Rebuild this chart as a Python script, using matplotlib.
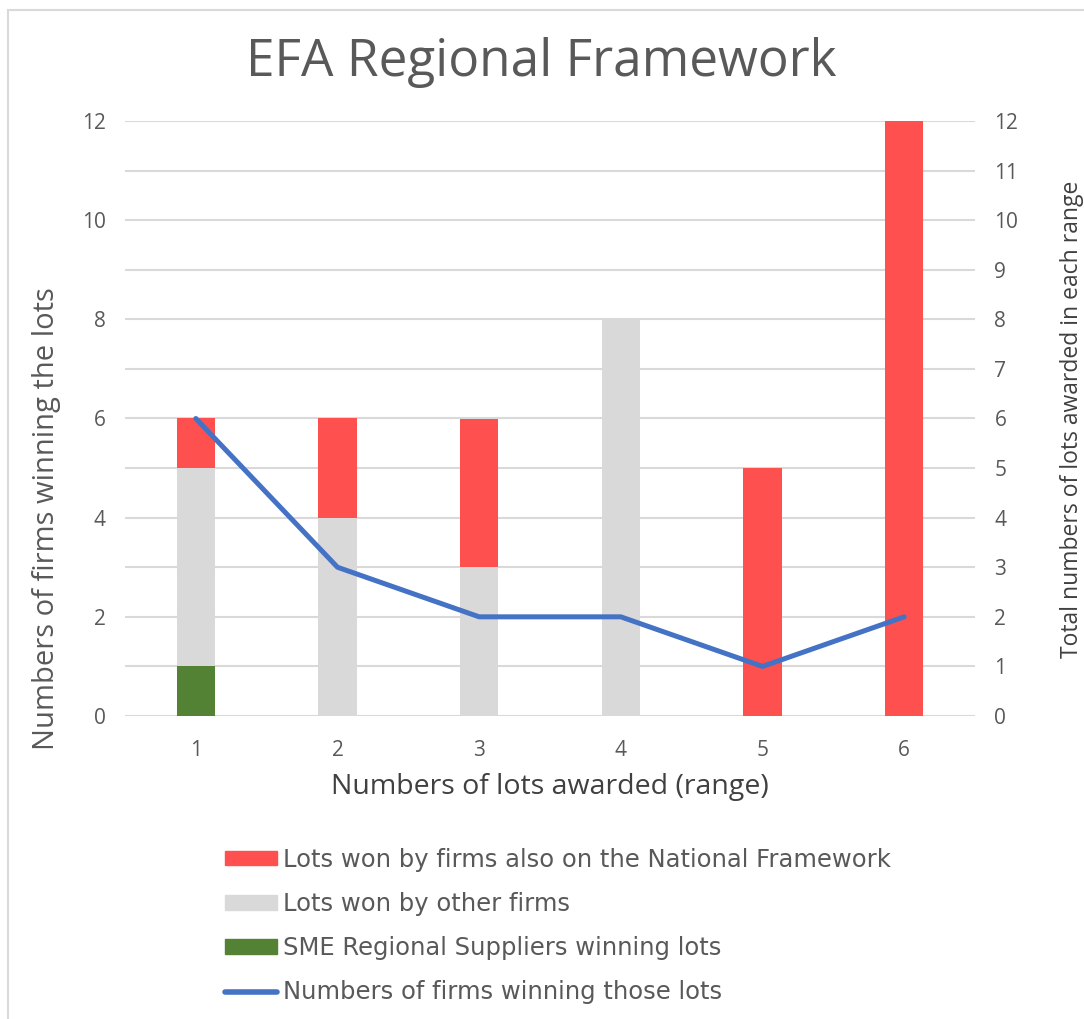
import numpy as np
import matplotlib
matplotlib.use("Agg")
import matplotlib.pyplot as plt
from matplotlib.patches import Patch, Rectangle
from matplotlib.lines import Line2D

plt.rcParams['font.family'] = ['Open Sans', 'DejaVu Sans']

# data
ranges = ["1", "2", "3", "4", "5", "6"]
sme_lots = [1, 0, 0, 0, 0, 0]
other_lots = [4, 4, 3, 8, 0, 0]
national_lots = [1, 2, 3, 0, 5, 12]
firms_winning = [6, 3, 2, 2, 1, 2]

c_red = "#FF5050"
c_gray = "#D9D9D9"
c_green = "#548235"
c_blue = "#4472C4"
c_text = "#595959"

W, H = 1084, 1019
fig = plt.figure(figsize=(W / 100, H / 100), dpi=100)

# outer chart border
fig.patches.append(Rectangle((8 / W, -0.01), 1.1, 1 - 10 / H + 0.01, transform=fig.transFigure,
                             fill=False, edgecolor="#D9D9D9", linewidth=1.5))

ax = fig.add_axes([125 / W, 1 - 716 / H, 850 / W, 595 / H])
ax2 = ax.twinx()

x = np.arange(1, len(ranges) + 1)
bw = 0.27
sme = np.array(sme_lots)
oth = np.array(other_lots)
nat = np.array(national_lots)

ax.bar(x, sme, bw, color=c_green, zorder=3)
ax.bar(x, oth, bw, bottom=sme, color=c_gray, zorder=3)
ax.bar(x, nat, bw, bottom=sme + oth, color=c_red, zorder=3)

ax2.plot(x, firms_winning, color=c_blue, linewidth=3.6, solid_capstyle="round", zorder=4)

for a in (ax, ax2):
    a.set_xlim(0.5, 6.5)
    a.set_ylim(0, 12)
    for s in a.spines.values():
        s.set_visible(False)
    a.tick_params(length=0, colors=c_text, labelsize=15)

ax.set_yticks(range(0, 13, 2))
ax2.set_yticks(range(0, 13, 1))
ax.set_yticks(range(0, 13), minor=True)
ax.tick_params(which="minor", length=0)
ax.grid(axis="y", which="both", color="#D9D9D9", linewidth=1.5, zorder=0)
ax.set_axisbelow(True)
ax.tick_params(axis="y", pad=14)
ax2.tick_params(axis="y", pad=14)
ax.set_xticks(x)
ax.set_xticklabels(ranges)
ax.tick_params(axis="x", pad=17)

# axis titles placed like the original (not centred on the axes)
fig.text(47 / W, 1 - 519 / H, "Numbers of firms winning the lots", rotation=90,
         ha="center", va="center", fontsize=21, color=c_text)
fig.text(1072 / W, 1 - 419 / H, "Total numbers of lots awarded in each range", rotation=90,
         ha="center", va="center", fontsize=16.5, color="#404040")
fig.text(550 / W, 1 - 787 / H, "Numbers of lots awarded (range)",
         ha="center", va="center", fontsize=20.5, color="#404040")

fig.text(541 / W, 1 - 62 / H, "EFA Regional Framework", ha="center", va="center",
         fontsize=37, color=c_text)

handles = [Patch(color=c_red), Patch(color=c_gray), Patch(color=c_green),
           Line2D([0], [0], color=c_blue, linewidth=4, solid_capstyle="round")]
labels = ["Lots won by firms also on the National Framework",
          "Lots won by other firms",
          "SME Regional Suppliers winning lots",
          "Numbers of firms winning those lots"]
leg = fig.legend(handles, labels, loc="upper left", bbox_to_anchor=(203 / W, 1 - 826 / H),
                 frameon=False, handlelength=2.14, handleheight=0.53,
                 handletextpad=0.25, labelspacing=0.83,
                 prop={'family': 'DejaVu Sans', 'size': 17.5})
for t in leg.get_texts():
    t.set_color(c_text)

fig.savefig("out.png", dpi=100, facecolor="white")
